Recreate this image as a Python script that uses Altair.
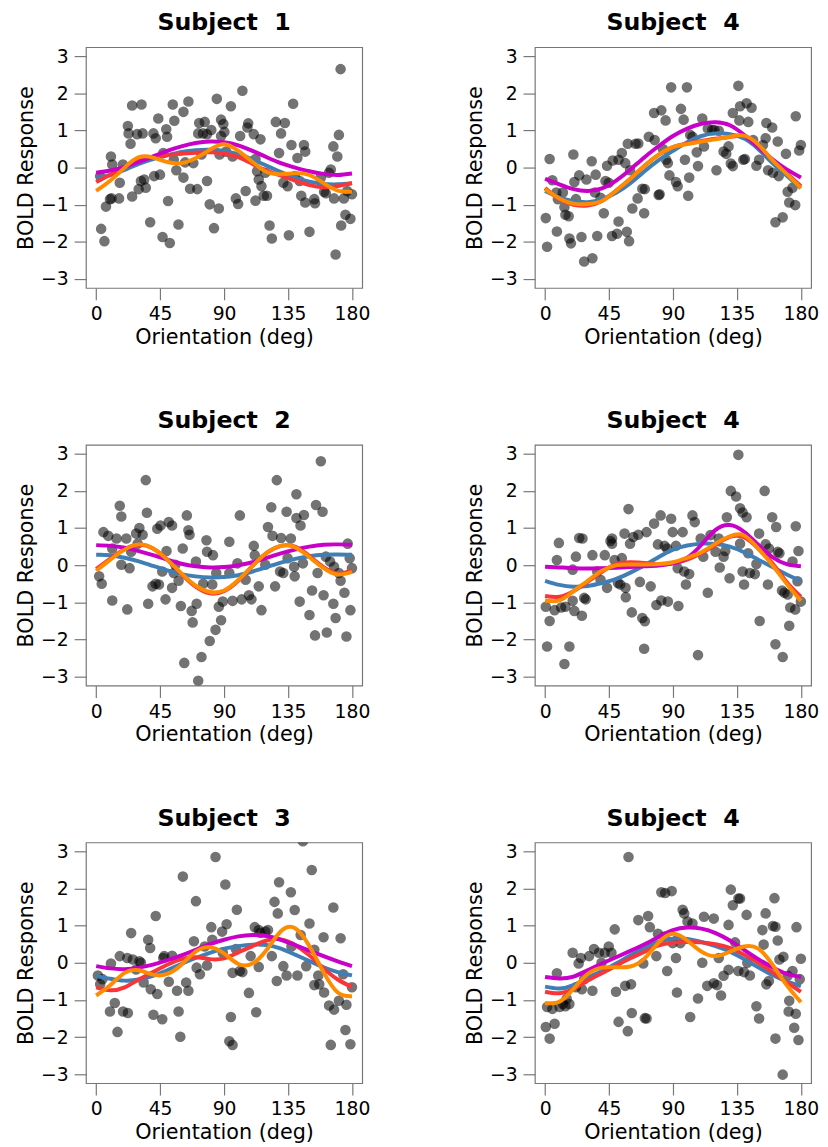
import altair as alt
import pandas as pd

FONT = "DejaVu Sans"

# ---------------- data ----------------
panel_titles = ["Subject\u00a0 1", "Subject\u00a0 4", "Subject\u00a0 2",
                "Subject\u00a0 4", "Subject\u00a0 3", "Subject\u00a0 4"]
x_ticks = [0, 45, 90, 135, 180]
y_ticks = [-3, -2, -1, 0, 1, 2, 3]
curve_x = [0, 10, 20, 30, 40, 50, 60, 70, 80, 90, 100, 110, 120, 130, 140, 150, 160, 170, 180]

s1_pts = [(2.8,-0.23),(3.5,-1.65),(5.8,-1.98),(6.9,-1.05),(9.7,-0.85),(10.4,0.30),(11.3,0.08),(16.6,-0.41),(16.1,-0.83),(10.8,-0.83),(22.3,1.12),(22.8,0.92),(24.2,0.64),(25.3,1.67),(31.9,1.70),(28.8,0.90),(32.7,0.92),(25.3,-0.78),(29.9,-0.58),(33.8,-0.32),(34.9,-0.54),(38.0,-1.47),(40.3,0.92),(41.9,0.79),(43.7,1.32),(49.3,1.03),(49.9,0.83),(47.2,0.39),(44.9,-0.19),(40.8,-0.23),(46.7,-1.87),(51.8,-2.03),(50.6,-0.90),(53.9,1.70),(55.0,1.26),(61.4,1.50),(64.9,1.78),(54.6,0.21),(56.4,-0.07),(61.4,-0.27),(57.9,-1.53),(62.6,0.14),(66.1,-0.57),(71.1,-0.58),(68.4,0.12),(72.5,1.20),(76.4,1.23),(71.8,0.92),(75.2,0.92),(78.0,0.90),(81.0,1.01),(74.1,0.35),(78.0,-0.36),(79.9,-0.99),(82.9,-1.63),(84.9,1.85),(86.3,-1.10),(87.9,1.29),(89.5,1.17),(87.9,0.85),(90.2,0.96),(86.8,0.35),(91.4,0.43),(94.8,1.65),(96.0,0.30),(98.3,-0.83),(99.9,-0.98),(101.3,0.85),(102.9,2.07),(105.2,-0.63),(107.0,1.19),(106.4,1.08),(110.9,0.90),(112.1,0.23),(113.2,-0.10),(115.6,0.76),(114.4,-0.32),(112.1,-0.89),(116.3,-0.50),(117.9,-0.76),(120.2,-0.76),(122.0,-1.56),(123.6,-1.91),(126.4,1.23),(132.8,1.20),(130.1,0.92),(128.7,0.39),(131.7,-0.41),(134.7,-0.50),(135.6,-1.82),(138.6,1.72),(137.4,0.61),(141.6,0.26),(146.2,0.61),(147.1,0.43),(144.3,-0.76),(147.1,-0.94),(150.1,-1.73),(153.5,-0.85),(154.0,-0.96),(160.4,-0.65),(161.6,-0.69),(165.1,-0.05),(166.9,0.57),(169.7,0.30),(170.8,0.88),(172.0,2.65),(168.5,-2.34),(167.4,-0.83),(174.3,-0.83),(175.4,-1.27),(172.4,-1.56),(178.9,-1.38),(180.0,-0.72),(176.6,-0.63),(139.7,-0.23),(143.2,-0.36),(158.1,-0.27),(163.8,-0.14),(119.0,-0.14),(18.8,0.08),(31.5,-0.36)]
s1_blue = [-0.30,-0.20,-0.06,0.10,0.23,0.33,0.42,0.47,0.48,0.45,0.36,0.22,0.05,-0.12,-0.27,-0.38,-0.44,-0.45,-0.42]
s1_red = [-0.39,-0.19,0.00,0.18,0.28,0.34,0.37,0.40,0.41,0.38,0.28,0.10,-0.08,-0.22,-0.35,-0.47,-0.53,-0.50,-0.42]
s1_magenta = [-0.14,-0.08,0.02,0.15,0.30,0.45,0.57,0.66,0.70,0.68,0.60,0.45,0.28,0.12,0.00,-0.10,-0.17,-0.20,-0.16]
s1_orange = [-0.63,-0.35,0.00,0.28,0.27,0.15,0.12,0.25,0.48,0.63,0.45,0.15,-0.12,-0.18,-0.15,-0.20,-0.42,-0.62,-0.65]

s2_pts = [(0.5,-1.36),(1.4,-2.13),(3.2,0.23),(5.1,-0.34),(7.9,-0.67),(8.3,-1.72),(9.0,-0.85),(12.5,-0.67),(13.6,-1.07),(14.3,-1.27),(16.6,-1.31),(17.1,-1.91),(18.2,-2.04),(19.9,0.35),(20.6,-0.39),(21.7,-0.85),(24.0,-0.21),(25.6,-1.87),(27.5,-2.53),(33.3,-2.44),(29.1,-0.32),(32.8,0.17),(35.6,-0.19),(36.7,-1.84),(35.1,-0.67),(39.0,-0.81),(41.3,-1.23),(42.5,-0.36),(43.6,0.05),(44.8,-0.41),(47.1,-1.84),(47.6,0.19),(50.6,-1.78),(51.7,-1.45),(51.7,0.21),(54.0,0.39),(56.4,0.12),(57.5,-1.73),(59.1,-1.98),(59.8,-0.07),(61.4,-1.10),(58.2,0.64),(63.7,0.64),(65.6,0.65),(65.1,-0.83),(68.4,-0.57),(70.2,-0.58),(69.7,-1.23),(73.0,0.83),(76.7,1.47),(81.8,1.54),(77.1,0.74),(79.9,-0.74),(80.6,-0.72),(82.9,0.50),(84.8,1.27),(85.2,0.21),(86.4,0.12),(88.7,2.16),(87.5,-0.21),(92.1,-0.39),(93.3,-0.50),(95.6,1.58),(97.5,1.29),(99.8,2.16),(98.4,0.21),(101.4,-0.27),(100.7,-0.76),(103.7,0.83),(106.7,0.41),(107.6,0.04),(110.6,1.32),(111.8,0.57),(114.5,1.05),(117.6,1.01),(120.6,-0.07),(122.2,0.99),(125.6,0.43),(127.5,0.37),(129.1,0.57),(130.7,0.11),(132.1,0.04),(132.1,1.47),(136.0,2.20),(136.7,1.27),(137.2,1.65),(139.5,0.21),(140.6,0.23),(141.8,1.73),(143.0,1.23),(145.3,1.61),(146.4,0.74),(148.7,0.05),(150.6,0.21),(153.3,0.61),(155.2,0.79),(155.7,1.20),(156.9,-0.07),(159.8,1.08),(160.3,-0.14),(162.1,-1.47),(163.7,0.70),(164.4,-0.23),(167.2,-1.34),(169.5,0.37),(170.7,-0.65),(171.8,-0.94),(176.0,-1.01),(176.4,1.38),(178.8,0.46),(180.0,0.61),(174.1,-0.54),(119.2,1.01),(102.1,0.88)]
s2_blue = [-0.63,-0.80,-0.90,-0.93,-0.85,-0.68,-0.42,-0.10,0.20,0.45,0.68,0.85,0.92,0.90,0.78,0.50,0.12,-0.22,-0.55]
s2_red = [-0.55,-0.85,-1.00,-1.02,-0.90,-0.62,-0.30,0.05,0.35,0.55,0.65,0.72,0.78,0.82,0.85,0.60,0.20,-0.15,-0.50]
s2_magenta = [-0.30,-0.45,-0.58,-0.63,-0.56,-0.35,-0.05,0.28,0.58,0.85,1.05,1.18,1.22,1.14,0.88,0.55,0.22,-0.05,-0.27]
s2_orange = [-0.58,-0.83,-0.97,-0.98,-0.90,-0.62,-0.30,0.05,0.35,0.55,0.63,0.70,0.76,0.83,0.86,0.62,0.20,-0.17,-0.55]

s3_pts = [(2.1,-0.30),(3.9,-0.50),(5.1,0.89),(8.5,0.79),(11.3,-0.95),(11.3,0.45),(14.3,0.72),(16.6,1.60),(17.7,1.31),(17.7,0.01),(21.9,-1.19),(21.2,0.72),(23.5,-0.08),(24.6,0.36),(28.1,0.85),(30.4,1.00),(29.2,0.58),(34.9,2.29),(35.7,1.41),(36.6,-1.04),(39.6,-0.57),(41.9,-0.50),(43.0,0.98),(45.3,1.07),(44.2,-0.52),(48.8,-0.92),(49.5,0.38),(46.5,-0.17),(51.1,1.16),(53.4,1.07),(53.4,-0.61),(54.6,-0.21),(58.0,-0.42),(59.6,-1.10),(60.9,0.45),(63.8,1.34),(64.9,0.94),(65.7,0.82),(62.0,-2.63),(67.2,-1.23),(67.9,-1.54),(70.2,0.10),(70.7,-1.04),(71.8,-3.11),(74.1,-2.47),(75.3,-0.50),(77.6,0.67),(78.0,0.36),(79.9,-2.04),(82.2,0.27),(81.7,-0.52),(84.0,-1.74),(86.3,-1.12),(87.9,-1.48),(89.1,-0.98),(93.7,0.63),(93.7,-0.21),(96.0,-0.96),(99.4,0.05),(101.1,1.34),(102.4,-0.92),(105.2,-0.39),(107.5,-0.81),(109.3,-0.92),(110.9,0.52),(111.6,0.27),(114.4,-0.57),(116.3,-1.21),(120.9,1.03),(123.2,1.56),(124.1,0.79),(125.9,-0.57),(127.1,2.29),(130.1,0.73),(129.4,-0.17),(131.7,-0.21),(134.0,1.44),(134.7,0.19),(137.0,0.72),(139.3,-0.04),(139.7,-0.30),(140.9,1.91),(140.9,1.27),(143.2,-0.98),(143.8,1.07),(146.2,1.35),(145.5,0.05),(150.1,-1.34),(151.9,-0.68),(154.0,-1.89),(154.7,1.62),(155.8,-0.21),(158.1,2.80),(159.3,1.44),(160.0,-0.81),(162.3,-1.81),(164.6,0.10),(166.9,-1.04),(168.5,-1.42),(170.8,-0.21),(172.0,-0.42),(174.7,-0.74),(176.1,-1.92),(177.0,0.58),(178.4,0.19),(178.9,-1.21),(180.0,-0.08),(161.6,0.23),(167.4,-0.04),(119.0,0.01),(84.5,-0.21),(32.7,0.82),(55.7,0.01)]
s3_blue = [0.28,0.27,0.20,0.10,-0.02,-0.14,-0.24,-0.30,-0.33,-0.32,-0.27,-0.17,-0.05,0.07,0.17,0.24,0.28,0.29,0.28]
s3_red = [-0.10,0.18,0.43,0.55,0.45,0.15,-0.24,-0.58,-0.76,-0.70,-0.42,-0.02,0.33,0.52,0.50,0.25,-0.05,-0.22,-0.14]
s3_magenta = [0.54,0.52,0.47,0.38,0.27,0.15,0.04,-0.03,-0.06,-0.05,0.00,0.08,0.20,0.32,0.42,0.50,0.55,0.56,0.55]
s3_orange = [-0.15,0.15,0.42,0.56,0.45,0.15,-0.22,-0.55,-0.72,-0.68,-0.40,-0.02,0.33,0.52,0.48,0.22,-0.08,-0.25,-0.18]

s4_pts = [(0.5,-1.12),(1.4,-2.19),(3.2,-1.50),(6.7,-1.21),(8.3,0.14),(9.7,0.60),(11.3,-1.14),(13.6,-2.66),(14.3,-1.12),(17.1,-2.19),(19.4,-0.96),(20.6,-1.23),(21.7,0.23),(24.0,0.73),(26.3,0.72),(25.9,-1.36),(27.5,-0.88),(28.6,-0.92),(33.3,0.27),(36.7,-0.17),(39.0,-0.39),(42.0,0.27),(43.6,-0.61),(46.0,0.65),(47.1,0.72),(48.9,0.14),(51.3,-0.48),(52.9,-0.52),(54.0,0.19),(55.9,0.85),(56.8,-0.86),(58.7,1.51),(59.8,0.58),(61.0,-1.27),(62.1,0.76),(65.6,0.82),(66.7,-0.45),(68.4,-1.42),(70.2,-1.51),(69.7,-2.25),(71.4,0.89),(74.3,-0.57),(76.7,1.12),(78.3,-1.07),(79.4,0.56),(81.3,1.34),(81.8,-0.95),(84.1,0.52),(85.9,0.45),(86.4,-0.98),(88.7,1.25),(89.8,0.89),(92.1,0.52),(93.8,-1.10),(93.3,-0.08),(96.8,0.89),(97.9,-0.17),(99.1,-0.52),(101.4,-0.24),(103.7,1.34),(105.3,1.16),(107.6,-2.42),(109.5,0.72),(111.3,0.23),(114.5,-0.74),(116.4,0.81),(119.9,0.36),(122.9,-0.06),(125.6,0.23),(127.9,1.29),(129.8,-0.35),(130.7,2.00),(134.4,1.85),(136.0,2.97),(137.2,1.53),(137.2,0.58),(139.0,1.42),(141.8,1.29),(140.0,-0.52),(139.0,-0.17),(142.9,0.32),(144.1,-0.21),(147.6,-0.24),(148.7,0.03),(150.6,0.85),(151.0,-1.50),(154.5,2.00),(155.2,0.56),(156.8,-0.52),(157.5,0.45),(159.8,1.29),(162.1,-2.13),(162.6,1.03),(163.7,0.36),(164.9,0.32),(166.7,-0.68),(167.2,-2.47),(168.4,-0.74),(170.7,-0.79),(171.8,-1.63),(172.5,-1.14),(174.1,0.10),(176.0,-1.19),(176.4,1.05),(178.3,0.38),(180.0,-0.98),(177.6,-0.43),(126.8,0.38),(122.2,0.72),(19.4,-0.12),(47.1,0.58),(56.6,-0.61)]
s4_blue = [-0.42,-0.53,-0.58,-0.56,-0.48,-0.37,-0.20,0.00,0.22,0.42,0.53,0.58,0.57,0.50,0.35,0.15,-0.05,-0.25,-0.42]
s4_red = [-0.83,-0.85,-0.70,-0.45,-0.18,0.03,0.08,0.06,0.02,0.05,0.15,0.33,0.55,0.76,0.75,0.45,0.05,-0.45,-0.85]
s4_magenta = [-0.04,-0.06,-0.08,-0.09,-0.08,-0.07,-0.05,-0.03,-0.01,0.05,0.20,0.55,0.95,1.08,0.90,0.55,0.22,0.03,-0.03]
s4_orange = [-0.95,-0.95,-0.70,-0.42,-0.15,0.00,0.02,0.02,0.03,0.08,0.20,0.35,0.58,0.78,0.80,0.45,0.00,-0.50,-0.96]

s5_pts = [(1.2,-0.34),(2.8,-0.58),(4.4,-0.44),(9.7,-1.31),(10.4,-0.02),(13.1,-1.08),(15.0,-1.86),(16.6,0.18),(18.9,-1.31),(22.3,-1.35),(21.9,0.13),(24.6,0.80),(25.8,0.09),(28.1,-0.18),(31.5,0.00),(33.4,-0.53),(36.6,0.62),(38.0,0.40),(38.4,-0.71),(40.3,-1.40),(41.9,1.26),(43.0,-0.84),(46.5,-1.52),(47.2,0.13),(51.1,-0.51),(53.4,0.19),(56.9,-0.75),(58.0,-1.31),(59.2,-1.99),(61.0,2.32),(63.3,-0.53),(64.9,-0.75),(68.8,0.58),(70.2,1.66),(70.7,-0.13),(73.0,-0.31),(76.4,0.44),(78.0,-0.07),(81.0,0.96),(81.7,0.62),(84.0,2.85),(88.6,0.84),(90.9,2.11),(91.8,1.04),(94.8,-1.46),(93.7,-2.11),(96.0,-2.21),(96.0,-0.27),(98.3,0.37),(99.0,1.43),(101.1,-0.22),(102.9,-0.25),(107.5,-0.81),(108.7,0.18),(111.6,0.96),(112.6,-1.33),(114.4,-0.11),(115.6,0.81),(119.0,0.84),(120.9,0.88),(123.6,0.18),(125.5,1.64),(127.1,-0.49),(127.8,1.33),(128.7,2.17),(131.7,-0.09),(134.0,-0.34),(137.0,1.90),(137.4,0.44),(139.7,1.42),(141.6,-0.34),(143.9,0.75),(145.5,3.27),(147.8,-0.09),(150.1,1.06),(151.7,2.50),(153.5,0.35),(153.5,-0.60),(156.3,-0.34),(157.0,-0.58),(160.0,0.69),(160.4,-0.80),(163.9,-1.15),(165.1,-2.21),(166.9,1.49),(167.4,-1.26),(170.8,-1.02),(172.0,0.66),(173.8,-0.31),(175.4,-1.81),(176.1,-1.13),(178.9,-2.19),(180.0,-0.66),(114.4,0.88),(47.9,0.18),(30.4,0.04),(89.1,0.27)]
s5_blue = [-0.35,-0.43,-0.48,-0.45,-0.35,-0.20,-0.03,0.13,0.27,0.38,0.45,0.49,0.48,0.38,0.22,0.05,-0.12,-0.25,-0.34]
s5_red = [-0.66,-0.74,-0.66,-0.45,-0.25,-0.05,0.10,0.15,0.10,0.12,0.28,0.45,0.60,0.63,0.48,0.20,-0.15,-0.45,-0.65]
s5_magenta = [-0.09,-0.15,-0.17,-0.13,-0.05,0.07,0.20,0.35,0.50,0.62,0.71,0.75,0.72,0.62,0.48,0.33,0.18,0.04,-0.09]
s5_orange = [-0.88,-0.60,-0.27,-0.20,-0.32,-0.30,-0.05,0.30,0.42,0.25,-0.03,-0.02,0.35,0.85,0.93,0.45,-0.25,-0.80,-0.90]

s6_pts = [(0.5,-1.73),(1.4,-1.19),(3.2,-2.04),(5.1,-1.24),(6.7,-1.64),(8.3,-0.28),(10.2,-1.19),(12.5,-1.11),(14.3,-1.17),(15.2,-0.97),(17.1,-1.11),(19.4,0.27),(21.7,-0.66),(23.6,-0.02),(25.2,0.13),(25.9,-0.71),(27.5,-0.44),(31.0,0.18),(33.3,-0.75),(34.4,0.37),(37.9,0.27),(39.7,0.00),(42.0,0.27),(44.8,0.44),(46.7,0.27),(49.0,0.90),(49.9,-0.78),(51.7,-1.59),(56.4,-0.62),(58.2,-1.84),(58.7,2.85),(60.5,-0.58),(61.0,-1.35),(65.6,1.15),(69.1,-0.02),(70.2,-1.49),(71.4,-1.50),(72.5,1.26),(73.7,0.96),(78.3,0.18),(79.4,0.78),(81.8,1.90),(84.5,1.88),(85.9,-0.22),(89.1,1.93),(89.8,0.53),(92.1,0.13),(92.8,-0.80),(95.2,0.53),(96.8,1.43),(97.9,1.33),(100.2,1.11),(102.1,-1.46),(103.7,1.06),(107.6,-0.96),(110.6,0.00),(111.8,1.24),(114.1,-0.62),(118.7,1.19),(118.7,-0.55),(121.0,-0.60),(122.2,0.13),(123.8,-0.88),(125.6,-0.35),(129.1,1.02),(129.1,-0.19),(130.7,1.97),(132.1,1.55),(133.7,0.55),(136.0,1.73),(137.2,1.73),(136.0,-0.22),(140.0,-0.25),(141.8,1.29),(142.3,0.00),(144.1,-0.34),(148.7,-1.17),(150.6,-1.50),(152.9,0.88),(153.8,0.49),(155.2,1.33),(155.7,-0.58),(157.5,-0.49),(160.3,0.99),(161.4,1.74),(162.1,0.97),(162.1,-2.04),(163.7,0.60),(164.9,0.09),(167.7,0.16),(167.2,-3.01),(170.7,-0.35),(171.8,-1.02),(171.4,-1.31),(174.1,-0.22),(175.3,-1.75),(176.4,-1.37),(176.9,0.96),(178.3,-2.08),(180.0,0.11),(179.2,-0.44),(84.1,0.71),(93.3,0.64)]
s6_blue = [-0.64,-0.69,-0.60,-0.40,-0.22,-0.02,0.20,0.40,0.57,0.65,0.64,0.56,0.45,0.30,0.10,-0.12,-0.33,-0.50,-0.63]
s6_red = [-0.78,-0.82,-0.70,-0.48,-0.28,-0.08,0.12,0.30,0.47,0.54,0.56,0.55,0.50,0.40,0.22,0.00,-0.25,-0.52,-0.78]
s6_magenta = [-0.38,-0.42,-0.37,-0.20,-0.02,0.15,0.32,0.50,0.70,0.88,0.95,0.92,0.80,0.60,0.35,0.10,-0.12,-0.30,-0.38]
s6_orange = [-1.08,-1.05,-0.70,-0.30,-0.13,-0.12,-0.10,0.12,0.55,0.78,0.60,0.30,0.18,0.30,0.44,0.38,-0.05,-0.60,-1.06]

line_colors = {"blue": "#3f7fb6", "red": "#f8363a", "magenta": "#c800c8", "orange": "#ff8c00"}

panels_data = [
    (s1_pts, [s1_blue, s1_red, s1_magenta, s1_orange]),
    (s2_pts, [s2_blue, s2_red, s2_magenta, s2_orange]),
    (s3_pts, [s3_blue, s3_red, s3_magenta, s3_orange]),
    (s4_pts, [s4_blue, s4_red, s4_magenta, s4_orange]),
    (s5_pts, [s5_blue, s5_red, s5_magenta, s5_orange]),
    (s6_pts, [s6_blue, s6_red, s6_magenta, s6_orange]),
]


def make_panel(title, pts, curves):
    df = pd.DataFrame(pts, columns=["deg", "bold"])
    xs = alt.Scale(domain=[-7.2, 187.2], nice=False, zero=False)
    ys = alt.Scale(domain=[-3.24, 3.24], nice=False, zero=False)
    xenc = alt.X("deg:Q", scale=xs,
                 axis=alt.Axis(values=x_ticks, title="Orientation (deg)", labelFlush=False))
    yenc = alt.Y("bold:Q", scale=ys,
                 axis=alt.Axis(values=y_ticks, title="BOLD Response", labelFlush=False))
    layers = [
        alt.Chart(df).mark_circle(size=115, color="black", opacity=0.55, clip=True)
        .encode(x=xenc, y=yenc)
    ]
    for name, vals in zip(["blue", "red", "magenta", "orange"], curves):
        cdf = pd.DataFrame({"deg": curve_x, "bold": vals})
        layers.append(
            alt.Chart(cdf).mark_line(color=line_colors[name], strokeWidth=4,
                                     interpolate="natural", clip=True)
            .encode(x=alt.X("deg:Q", scale=xs), y=alt.Y("bold:Q", scale=ys))
        )
    return alt.layer(*layers).properties(
        width=280, height=244,
        title=alt.Title(title, font=FONT, fontSize=24, fontWeight="bold",
                        color="black", anchor="middle", offset=12),
    )


panels = [make_panel(t, p, c) for t, (p, c) in zip(panel_titles, panels_data)]

chart = alt.concat(
    *panels, columns=2, spacing={"row": 159, "column": 175}, bounds="flush"
).properties(
    padding={"left": 7, "top": -5, "right": 0, "bottom": 0}
).configure_view(
    stroke="#777777", strokeWidth=1.2
).configure_axis(
    domain=False, grid=False,
    tickColor="#777777", tickSize=12, tickWidth=1.2,
    labelFont=FONT, labelFontSize=19, labelColor="black",
    titleFont=FONT, titleFontSize=21, titleFontWeight="normal", titleColor="black",
).configure_axisX(
    labelPadding=5, titlePadding=3
).configure_axisY(
    labelPadding=6, titlePadding=4
)

chart.save("out.html", embed_options={"renderer": "svg", "actions": False})
